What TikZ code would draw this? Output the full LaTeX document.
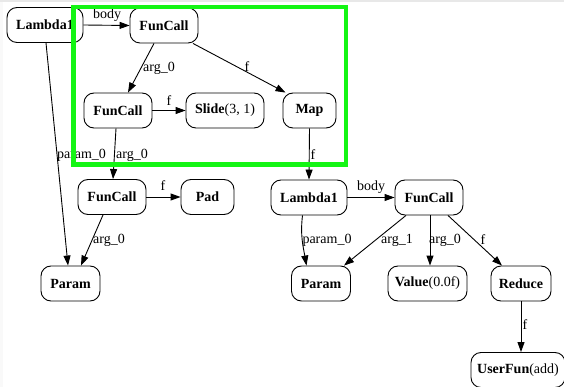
\documentclass[tikz,border=0pt]{standalone}
\usepackage{fontspec}
\setmainfont{Liberation Serif}
\usetikzlibrary{arrows.meta}

\definecolor{hilite}{RGB}{20,245,20}

\tikzset{
  box/.style={draw=black, line width=0.9pt, rounded corners=10pt,
              minimum height=35pt, inner sep=0pt, font=\fontsize{14}{16}\selectfont},
  conn/.style={draw=black, line width=0.9pt, -{Triangle[length=10pt,width=7pt]}},
  lbl/.style={inner sep=0pt, font=\fontsize{14}{16}\selectfont}
}

\begin{document}
\begin{tikzpicture}[x=1pt, y=-1pt]
  \useasboundingbox (0,0) rectangle (564,387);
  \clip (0,0) rectangle (564,387);
  \fill[white] (0,0) rectangle (564,387);
  \fill[gray!18] (0,0) rectangle (564,2.5);
  \fill[gray!5] (0,2.5) rectangle (2.5,387);

  % expression nodes
  \node[box, minimum width=76pt] (l1)    at (45,25)      {\textbf{Lambda1}};
  \node[box, minimum width=68pt] (f1)    at (164,25.5)   {\textbf{FunCall}};
  \node[box, minimum width=68pt] (f2)    at (118,110.5)  {\textbf{FunCall}};
  \node[box, minimum width=78pt] (slide) at (225,110.5)  {\textbf{Slide}(3, 1)};
  \node[box, minimum width=53pt] (map)   at (309.5,110.5){\textbf{Map}};
  \node[box, minimum width=68pt] (f3)    at (112,197)    {\textbf{FunCall}};
  \node[box, minimum width=53pt] (pad)   at (207.5,197)  {\textbf{Pad}};
  \node[box, minimum width=59pt] (p1)    at (70.5,283.5) {\textbf{Param}};
  \node[box, minimum width=76pt] (l2)    at (309,197.5)  {\textbf{Lambda1}};
  \node[box, minimum width=68pt] (f4)    at (429,197.5)  {\textbf{FunCall}};
  \node[box, minimum width=59pt] (p2)    at (321,283.5)  {\textbf{Param}};
  \node[box, minimum width=79pt] (val)   at (427.5,283.5){\textbf{Value}(0.0f)};
  \node[box, minimum width=60pt] (red)   at (521,283.5)  {\textbf{Reduce}};
  \node[box, minimum width=94pt] (uf)    at (518,370)    {\textbf{UserFun}(add)};

  % connectors with their labels
  \draw[conn] (l1.east) -- (f1.west) node[lbl] at (107,15) {body};
  \draw[conn] ([xshift=-10pt]f1.south) -- ([xshift=10pt]f2.north)
    node[lbl] at (159,68) {arg\_0};
  \draw[conn] ([xshift=29pt]f1.south) -- ([xshift=-24pt]map.north)
    node[lbl] at (247,67) {f};
  \draw[conn] (f2.east) -- (slide.west) node[lbl] at (169,101) {f};
  \draw[conn] (map.south) -- (l2.north) node[lbl] at (313,155) {f};
  \draw[conn] ([xshift=-2pt]f2.south) -- ([xshift=1pt]f3.north)
    node[lbl] at (132,155) {arg\_0};
  \draw[conn] ([xshift=1pt]l1.south) -- ([xshift=-2.5pt]p1.north)
    node[lbl] at (81.5,155) {param\_0};
  \draw[conn] (f3.east) -- (pad.west) node[lbl] at (163,186) {f};
  \draw[conn] ([xshift=-9pt]f3.south) -- ([xshift=10.5pt]p1.north)
    node[lbl] at (109,240) {arg\_0};
  \draw[conn] (l2.east) -- (f4.west) node[lbl] at (371,187) {body};
  \draw[conn] ([xshift=-6.5pt]l2.south) to[out=-97, in=100] ([xshift=-14.5pt]p2.north);
  \node[lbl] (lp2) at (327,240) {param\_0};
  \draw[conn] ([xshift=-23pt]f4.south) -- ([xshift=23pt]p2.north)
    node[lbl] at (397,240) {arg\_1};
  \draw[conn] ([xshift=1pt]f4.south) -- ([xshift=2.5pt]val.north)
    node[lbl] at (445,240) {arg\_0};
  \draw[conn] ([xshift=19pt]f4.south) -- ([xshift=-19pt]red.north)
    node[lbl] at (483,240) {f};
  \draw[conn] (red.south) -- ([xshift=3pt]uf.north) node[lbl] at (525,325) {f};

  % highlight frame
  \draw[hilite, line width=4.6pt] (73.7,7) rectangle (346,164.5);
\end{tikzpicture}
\end{document}
